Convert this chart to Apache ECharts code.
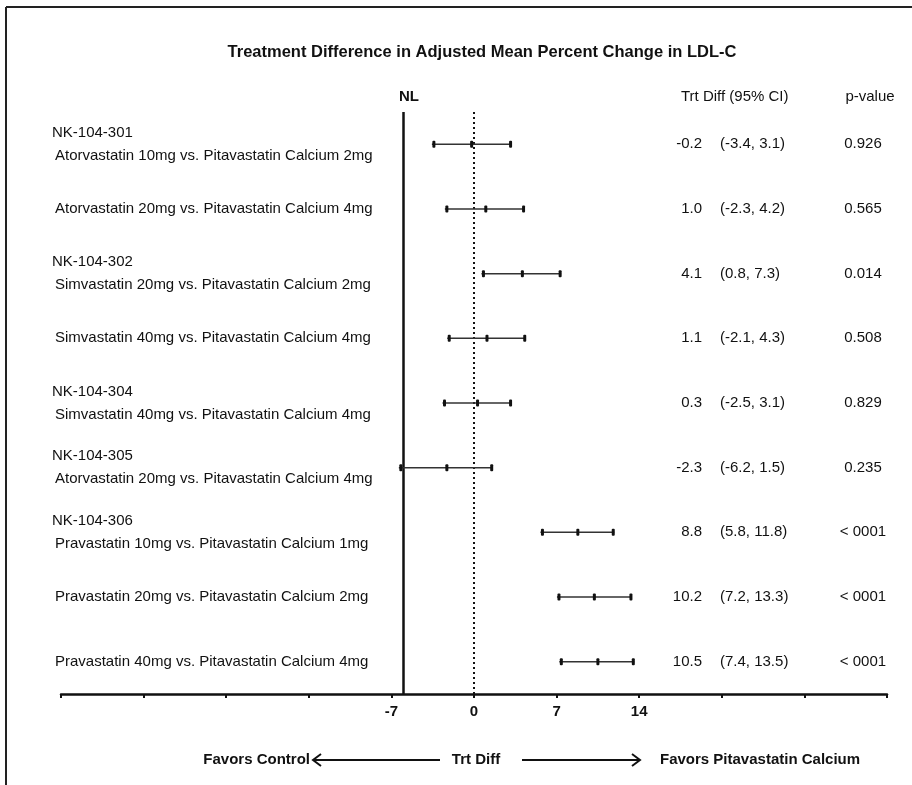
<!DOCTYPE html>
<html>
<head>
<meta charset="utf-8">
<script src="https://cdn.jsdelivr.net/npm/echarts@6/dist/echarts.min.js"></script>
</head>
<body style="margin:0;background:#fff">
<div id="main" style="width:912px;height:785px;"></div>
<script>
// rows, top to bottom
var studies = ['NK-104-301', '', 'NK-104-302', '', 'NK-104-304', 'NK-104-305', 'NK-104-306', '', ''];
var comparisons = [
    'Atorvastatin 10mg vs. Pitavastatin Calcium 2mg',
    'Atorvastatin 20mg vs. Pitavastatin Calcium 4mg',
    'Simvastatin 20mg vs. Pitavastatin Calcium 2mg',
    'Simvastatin 40mg vs. Pitavastatin Calcium 4mg',
    'Simvastatin 40mg vs. Pitavastatin Calcium 4mg',
    'Atorvastatin 20mg vs. Pitavastatin Calcium 4mg',
    'Pravastatin 10mg vs. Pitavastatin Calcium 1mg',
    'Pravastatin 20mg vs. Pitavastatin Calcium 2mg',
    'Pravastatin 40mg vs. Pitavastatin Calcium 4mg'
];
var trtDiff = [-0.2, 1.0, 4.1, 1.1, 0.3, -2.3, 8.8, 10.2, 10.5];
var ciLow = [-3.4, -2.3, 0.8, -2.1, -2.5, -6.2, 5.8, 7.2, 7.4];
var ciHigh = [3.1, 4.2, 7.3, 4.3, 3.1, 1.5, 11.8, 13.3, 13.5];
var pValues = ['0.926', '0.565', '0.014', '0.508', '0.829', '0.235', '< 0001', '< 0001', '< 0001'];
var xTickLabels = [-7, 0, 7, 14];
var nlLimit = -6;

var FONT = 'Liberation Sans, Arial, sans-serif';
var INK = '#111';

var myChart = echarts.init(document.getElementById('main'));

var ciData = [];
for (var i = 0; i < trtDiff.length; i++) {
    ciData.push([i, ciLow[i], trtDiff[i], ciHigh[i]]);
}

function renderCI(params, api) {
    var row = api.value(0);
    var lo = api.coord([api.value(1), row]);
    var mid = api.coord([api.value(2), row]);
    var hi = api.coord([api.value(3), row]);
    var y = lo[1];
    function cap(x) {
        return {
            type: 'rect',
            shape: { x: x - 1.5, y: y - 3.5, width: 3, height: 7, r: 1 },
            style: { fill: INK }
        };
    }
    return {
        type: 'group',
        children: [
            {
                type: 'line',
                shape: { x1: lo[0] - 2, y1: y, x2: hi[0] + 1, y2: y },
                style: { stroke: '#333', lineWidth: 1.5 }
            },
            cap(lo[0]), cap(mid[0]), cap(hi[0])
        ]
    };
}

// hidden category axes used only to print the right-hand columns
function columnAxis(offset, label) {
    return {
        type: 'category',
        data: comparisons,
        inverse: true,
        position: 'right',
        offset: offset,
        axisLine: { show: false },
        axisTick: { show: false },
        splitLine: { show: false },
        axisLabel: Object.assign({
            interval: 0,
            margin: 0,
            color: INK,
            fontFamily: FONT,
            fontSize: 15
        }, label)
    };
}

function headerText(x, y, text, align, bold, size) {
    return {
        type: 'text',
        x: x, y: y,
        style: {
            text: text,
            fill: INK,
            fontFamily: FONT,
            fontSize: size || 15,
            fontWeight: bold ? 'bold' : 'normal',
            align: align,
            verticalAlign: 'middle'
        }
    };
}

function arrow(x1, x2, y) {
    var dir = x2 > x1 ? 1 : -1;
    return {
        type: 'group',
        children: [
            { type: 'line', shape: { x1: x1, y1: y, x2: x2, y2: y }, style: { stroke: INK, lineWidth: 2 } },
            {
                type: 'polyline',
                shape: { points: [[x2 - dir * 8, y - 6], [x2, y], [x2 - dir * 8, y + 6]] },
                style: { stroke: INK, lineWidth: 2, fill: null }
            }
        ]
    };
}

var option = {
    animation: false,
    grid: { left: 61, right: 25, top: 112, bottom: 91 },
    xAxis: {
        type: 'value',
        min: -35,
        max: 35,
        interval: 7,
        splitLine: { show: false },
        axisLine: { show: true, onZero: false, lineStyle: { color: INK, width: 2.5 } },
        axisTick: { show: true, length: 4, lineStyle: { color: INK, width: 2 } },
        axisLabel: {
            margin: 10,
            color: INK,
            fontFamily: FONT,
            fontSize: 15,
            fontWeight: 'bold',
            formatter: function (v) {
                return xTickLabels.indexOf(v) >= 0 ? String(v) : '';
            }
        }
    },
    yAxis: [
        {
            type: 'category',
            data: comparisons,
            inverse: true,
            axisLine: { show: false },
            axisTick: { show: false },
            splitLine: { show: false },
            axisLabel: {
                interval: 0,
                align: 'left',
                margin: 9,
                color: INK,
                fontFamily: FONT,
                fontSize: 15,
                formatter: function (v, i) {
                    var s = '{cmp|' + comparisons[i] + '}';
                    return studies[i] ? '{id|' + studies[i] + '}\n' + s : s;
                },
                rich: {
                    id: { fontFamily: FONT, fontSize: 15, color: INK, lineHeight: 23 },
                    cmp: { fontFamily: FONT, fontSize: 15, color: INK, lineHeight: 23, padding: [0, 0, 0, 3] }
                }
            }
        },
        columnAxis(-185, {
            inside: true,
            formatter: function (v, i) { return trtDiff[i].toFixed(1); }
        }),
        columnAxis(-167, {
            align: 'left',
            formatter: function (v, i) {
                return '(' + ciLow[i].toFixed(1) + ', ' + ciHigh[i].toFixed(1) + ')';
            }
        }),
        columnAxis(-24, {
            align: 'center',
            formatter: function (v, i) { return pValues[i]; }
        })
    ],
    graphic: [
        { type: 'line', shape: { x1: 6, y1: 7, x2: 912, y2: 7 }, style: { stroke: '#222', lineWidth: 2 } },
        { type: 'line', shape: { x1: 6, y1: 7, x2: 6, y2: 785 }, style: { stroke: '#222', lineWidth: 2 } },
        headerText(482, 52, 'Treatment Difference in Adjusted Mean Percent Change in LDL-C', 'center', true, 16.5),
        headerText(409, 97, 'NL', 'center', true),
        headerText(681, 97, 'Trt Diff (95% CI)', 'left', false),
        headerText(870, 97, 'p-value', 'center', false),
        headerText(310, 760, 'Favors Control', 'right', true),
        arrow(440, 313, 760),
        headerText(476, 760, 'Trt Diff', 'center', true),
        arrow(522, 640, 760),
        headerText(660, 760, 'Favors Pitavastatin Calcium', 'left', true)
    ],
    series: [
        {
            type: 'custom',
            renderItem: renderCI,
            encode: { x: [1, 2, 3], y: 0 },
            data: ciData,
            silent: true,
            z: 5
        },
        {
            type: 'scatter',
            data: [],
            silent: true,
            markLine: {
                silent: true,
                symbol: 'none',
                label: { show: false },
                data: [
                    { xAxis: nlLimit, lineStyle: { color: INK, width: 2.5, type: 'solid' } },
                    { xAxis: 0, lineStyle: { color: INK, width: 2, type: [2, 3] } }
                ]
            }
        }
    ]
};

myChart.setOption(option);
</script>
</body>
</html>
